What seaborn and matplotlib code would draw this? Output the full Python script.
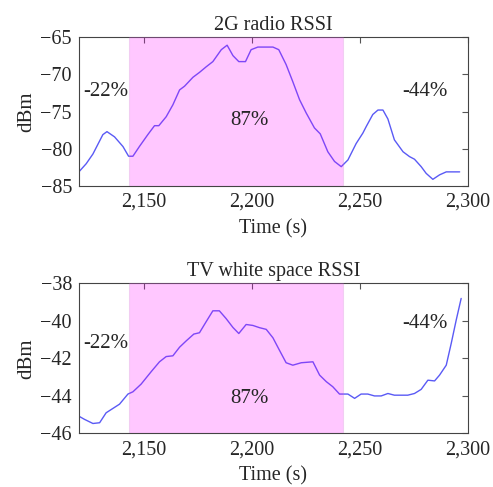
import matplotlib
matplotlib.use("Agg")
import matplotlib.pyplot as plt
import matplotlib.ticker as mticker
import seaborn as sns
import pandas as pd

# 2G radio RSSI trace (time in s, dBm)
radio_t = [2120, 2123.4, 2126.5, 2131.1, 2133, 2136.5, 2140.4, 2143, 2145, 2148,
           2151.9, 2155, 2157, 2160.4, 2163.5, 2166.6, 2168.9, 2172.8, 2175.8, 2178.9,
           2182, 2185.9, 2188.6, 2191.3, 2194, 2197.1, 2199.7, 2202.8, 2209.8, 2212.5,
           2215.9, 2219, 2222.1, 2225.2, 2229, 2231.7, 2235.2, 2238.3, 2241.4, 2244.5,
           2248.3, 2251.4, 2253, 2256, 2258.4, 2260.7, 2263, 2266, 2270, 2273,
           2275.3, 2278.4, 2280.7, 2283.8, 2286.9, 2290, 2296.2]
radio_rssi = [-83.1, -82.0, -80.7, -78.1, -77.7, -78.4, -79.7, -81.0, -81.0, -79.7,
              -78.1, -76.9, -76.9, -75.7, -74.1, -72.1, -71.6, -70.4, -69.75, -69.0,
              -68.3, -66.7, -66.1, -67.5, -68.3, -68.3, -66.7, -66.35, -66.35, -66.7,
              -68.7, -71.0, -73.4, -75.2, -77.2, -78.0, -80.4, -81.7, -82.4, -81.5,
              -79.3, -77.9, -77.0, -75.4, -74.8, -74.8, -76.0, -78.8, -80.4, -81.05,
              -81.4, -82.4, -83.3, -84.1, -83.5, -83.1, -83.1]

# TV white space RSSI trace
tvws_t = [2120, 2122.6, 2126.5, 2129.6, 2132.6, 2135.7, 2138.8, 2142.7, 2145, 2148.8,
          2153.5, 2157.3, 2160.4, 2163.5, 2166.6, 2169.7, 2173.2, 2175.8, 2178.9, 2182,
          2185, 2188.1, 2191.3, 2194, 2197.4, 2200.5, 2203.6, 2206.7, 2209.8, 2212.8,
          2215.9, 2219, 2222.9, 2228.3, 2231.4, 2234.5, 2237.5, 2240.6, 2244.5, 2247.6,
          2250.6, 2253.7, 2256.8, 2259.9, 2263, 2266, 2272.2, 2275.3, 2278.4, 2281.5,
          2284.6, 2286.9, 2290, 2292.3, 2294.6, 2296.9]
tvws_rssi = [-45.08, -45.25, -45.47, -45.43, -44.9, -44.67, -44.44, -43.9, -43.78, -43.37,
             -42.7, -42.18, -41.9, -41.86, -41.4, -41.06, -40.7, -40.63, -40.04, -39.46,
             -39.46, -39.87, -40.35, -40.67, -40.19, -40.24, -40.36, -40.45, -40.9, -41.56,
             -42.23, -42.36, -42.23, -42.18, -42.89, -43.24, -43.51, -43.9, -43.9, -44.13,
             -43.9, -43.9, -44.0, -44.0, -43.87, -43.96, -43.96, -43.87, -43.65, -43.16,
             -43.2, -42.89, -42.36, -41.2, -39.96, -38.8]

span_start, span_end = 2143, 2242
labels = ["-22%", "87%", "-44%"]
label_t = [2132.6, 2198.7, 2280]
radio_label_y = [-72.3, -76.2, -72.3]
tvws_label_y = [-41.2, -44.13, -40.13]

sns.set_theme(style="white")
plt.rcParams["font.family"] = ["Liberation Serif", "DejaVu Serif"]
plt.rcParams["font.size"] = 14

fig = plt.figure(figsize=(4.93, 4.87), dpi=100)
ax1 = fig.add_axes([0.160, 0.618, 0.789, 0.306])
ax2 = fig.add_axes([0.160, 0.110, 0.789, 0.308])

panels = [
    (ax1, radio_t, radio_rssi, radio_label_y, "2G radio RSSI", (-85, -65), 5),
    (ax2, tvws_t, tvws_rssi, tvws_label_y, "TV white space RSSI", (-46, -38), 2),
]

for ax, t, v, ly, title, ylim, ystep in panels:
    df = pd.DataFrame({"t": t, "v": v})
    sns.lineplot(data=df, x="t", y="v", ax=ax, color="#5a5af5", linewidth=1.0, zorder=2)
    ax.axvspan(span_start, span_end, facecolor="#ff00ff", alpha=0.22,
               edgecolor="#c080c8", linewidth=0.8, zorder=3)
    for lab, lt, y in zip(labels, label_t, ly):
        ax.text(lt, y, lab, ha="center", va="center", fontsize=15, zorder=4)
    ax.set_xlim(2120, 2300)
    ax.set_ylim(*ylim)
    ax.xaxis.set_major_locator(mticker.FixedLocator([2150, 2200, 2250, 2300]))
    ax.xaxis.set_major_formatter(mticker.FuncFormatter(lambda x, p: f"{int(x):,}"))
    ax.yaxis.set_major_locator(mticker.MultipleLocator(ystep))
    ax.yaxis.set_major_formatter(mticker.FuncFormatter(lambda y, p: f"{int(y)}".replace("-", "\u2212")))
    ax.tick_params(axis="both", direction="in", length=4, width=0.8, color="#555555",
                   top=True, right=True, labelsize=14.5)
    ax.tick_params(axis="x", pad=5)
    ax.tick_params(axis="y", pad=5)
    for s in ax.spines.values():
        s.set_color("#444444")
        s.set_linewidth(0.8)
    ax.set_title(title, fontsize=14.5, pad=5)
    ax.set_xlabel("Time (s)", fontsize=14.5, labelpad=5)
    ax.set_ylabel("dBm", fontsize=15, labelpad=3)

fig.savefig("out.png", dpi=100)
